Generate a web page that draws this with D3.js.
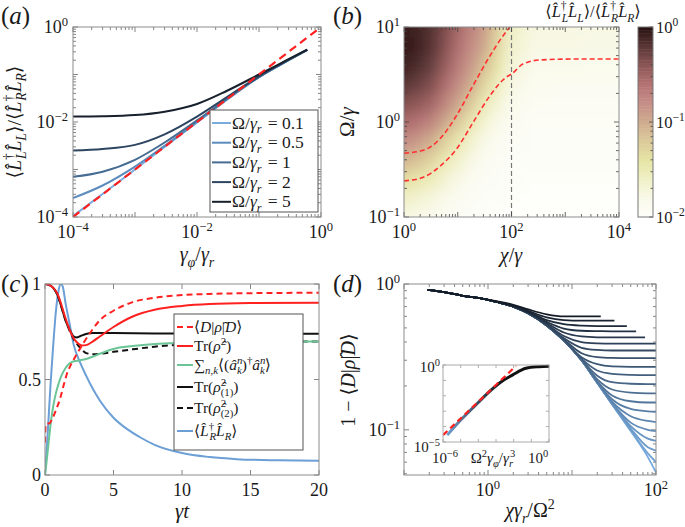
<!DOCTYPE html>
<html><head><meta charset="utf-8">
<script src="https://cdn.jsdelivr.net/npm/d3@7"></script>
<style>
body{margin:0;background:#fff}
text{font-family:"Liberation Serif","DejaVu Serif",serif;fill:#1a1a1a}
</style></head>
<body><svg id="c" width="685" height="527"></svg>
<script>
// ================= DATA =================
// Panel (a)
const aGamma = [1e-4, 3e-4, 1e-3, 3e-3, 1e-2, 3e-2, 0.1, 0.3, 0.6];
const aOmegaLabels = ["0.1", "0.5", "1", "2", "5"];
const aRatio01 = [1.05e-4, 3.05e-4, 1.0e-3, 3.0e-3, 9.8e-3, 2.9e-2, 8.8e-2, 0.2, 0.33];
const aRatio05 = [2.5e-4, 4.6e-4, 1.15e-3, 3.15e-3, 1.0e-2, 2.95e-2, 8.8e-2, 0.2, 0.33];
const aRatio1  = [7e-4, 9e-4, 1.6e-3, 3.7e-3, 1.08e-2, 3.05e-2, 8.9e-2, 0.2, 0.33];
const aRatio2  = [2.5e-3, 2.7e-3, 3.3e-3, 5.5e-3, 1.3e-2, 3.3e-2, 9.1e-2, 0.205, 0.33];
const aRatio5  = [1.3e-2, 1.32e-2, 1.4e-2, 1.65e-2, 2.4e-2, 4.5e-2, 0.1, 0.21, 0.335];
const aDiagX = [1e-4, 1];
const aDiagY = [1e-4, 1];
const aColors = ["#79abdd", "#5b8cbd", "#466c93", "#2d4561", "#17202c"];

// Panel (b)
const bChi = [1, 1.778, 3.162, 5.623, 10, 17.78, 31.62, 56.23, 100, 316.2, 1000, 3162, 10000];
const bOmega = [0.1, 0.1585, 0.2512, 0.3981, 0.631, 1, 1.585, 2.512, 3.981, 6.31, 10];
// log10 of ratio, one column per chi node, from low Omega to high Omega
const bLogRatio = [
  [-1.75,-1.6,-1.35,-1.05,-0.78,-0.55,-0.36,-0.2,-0.08,-0.03,-0.06],
  [-1.8,-1.66,-1.44,-1.15,-0.88,-0.62,-0.42,-0.26,-0.15,-0.09,-0.1],
  [-1.85,-1.72,-1.53,-1.27,-1.0,-0.72,-0.5,-0.35,-0.24,-0.18,-0.17],
  [-1.9,-1.8,-1.67,-1.48,-1.25,-0.95,-0.72,-0.56,-0.44,-0.36,-0.33],
  [-1.95,-1.88,-1.78,-1.63,-1.45,-1.18,-0.95,-0.78,-0.66,-0.58,-0.53],
  [-1.97,-1.93,-1.87,-1.78,-1.65,-1.45,-1.2,-1.0,-0.87,-0.78,-0.72],
  [-1.98,-1.96,-1.93,-1.88,-1.8,-1.68,-1.5,-1.3,-1.12,-0.98,-0.9],
  [-1.99,-1.97,-1.96,-1.93,-1.88,-1.8,-1.7,-1.56,-1.42,-1.32,-1.25],
  [-1.99,-1.98,-1.97,-1.95,-1.93,-1.89,-1.84,-1.78,-1.72,-1.66,-1.62],
  [-1.99,-1.99,-1.98,-1.97,-1.96,-1.94,-1.91,-1.87,-1.82,-1.77,-1.75],
  [-1.99,-1.99,-1.98,-1.97,-1.96,-1.94,-1.92,-1.88,-1.82,-1.77,-1.76],
  [-1.99,-1.99,-1.98,-1.97,-1.96,-1.94,-1.92,-1.88,-1.83,-1.78,-1.77],
  [-1.99,-1.99,-1.98,-1.97,-1.96,-1.94,-1.92,-1.88,-1.83,-1.78,-1.77]
];
const bUpperChi = [1, 2.2, 4.6, 9.5, 19.5, 40, 79, 93];
const bUpperOmega = [0.47, 0.50, 0.66, 1.17, 2.45, 5.0, 8.9, 10];
const bLowerChi = [1, 2.2, 4.6, 9.5, 19.5, 40, 79, 100, 166, 340, 1400, 10000];
const bLowerOmega = [0.24, 0.26, 0.34, 0.52, 1.0, 1.9, 2.95, 3.2, 4.1, 4.5, 4.6, 4.6];
const bVertChi = 100;

// Panel (c)
const cDt = [0, 0.05, 0.15, 0.3, 0.5, 0.8, 1.1, 1.4, 1.6, 1.95, 2.3, 2.8, 3.5, 4, 5, 6.4, 8, 10, 12, 15, 20];
const cD  = [0.17, 0.26, 0.27, 0.27, 0.29, 0.34, 0.40, 0.48, 0.53, 0.585, 0.63, 0.69, 0.765, 0.81, 0.86, 0.905, 0.928, 0.942, 0.948, 0.952, 0.954];
const cPt = [0, 0.3, 0.6, 0.9, 1.2, 1.5, 1.8, 2.1, 2.4, 2.7, 3.0, 3.5, 4, 5, 6.4, 8, 10, 12, 15, 20];
const cPur = [1.0, 0.995, 0.98, 0.95, 0.89, 0.82, 0.76, 0.715, 0.69, 0.678, 0.68, 0.70, 0.725, 0.775, 0.83, 0.865, 0.885, 0.895, 0.9, 0.902];
const c1t = [0, 0.3, 0.6, 0.9, 1.2, 1.5, 1.8, 2.1, 2.3, 2.6, 3.0, 3.5, 4, 5, 8, 12, 20];
const cPur1 = [1.0, 0.995, 0.98, 0.945, 0.88, 0.81, 0.76, 0.725, 0.72, 0.728, 0.738, 0.743, 0.744, 0.743, 0.741, 0.74, 0.739];
const c2t = [0, 0.3, 0.6, 0.9, 1.2, 1.5, 1.8, 2.1, 2.4, 2.7, 3.0, 3.5, 4, 5, 6.4, 8, 10, 12, 15, 20];
const cPur2 = [1.0, 0.995, 0.98, 0.945, 0.88, 0.81, 0.755, 0.71, 0.68, 0.655, 0.638, 0.632, 0.634, 0.645, 0.658, 0.672, 0.683, 0.69, 0.696, 0.699];
const cNt = [0, 0.1, 0.25, 0.4, 0.6, 0.8, 1.0, 1.2, 1.5, 1.8, 2.1, 2.5, 3.0, 3.5, 4, 5, 6.4, 8, 10, 13, 16, 20];
const cN  = [0, 0.06, 0.16, 0.26, 0.36, 0.43, 0.48, 0.52, 0.56, 0.585, 0.595, 0.6, 0.607, 0.62, 0.635, 0.66, 0.675, 0.686, 0.692, 0.696, 0.698, 0.699];
const cLt = [0, 0.2, 0.4, 0.6, 0.8, 1.0, 1.15, 1.3, 1.5, 1.8, 2.1, 2.5, 3, 3.5, 4, 5, 6, 7, 8, 10, 12, 14, 17, 20];
const cLR = [0, 0.22, 0.47, 0.68, 0.86, 0.97, 1.0, 0.985, 0.9, 0.79, 0.68, 0.6, 0.52, 0.45, 0.39, 0.30, 0.24, 0.195, 0.158, 0.115, 0.094, 0.083, 0.077, 0.075];

// Panel (d)
const dX = [0.19, 0.3, 0.5, 0.8, 1.3, 2, 3, 5, 8, 13, 20, 30, 50, 80, 100];
const dEnd = [22, 32, 45, 58, 74, 100, 100, 100, 100, 100, 100, 100, 100, 100, 100, 100, 100, 100, 100, 100];
const dCurves = [
  [.91,.88,.83,.80,.76,.72,.67,.62,.60,.60,.60,.60],
  [.91,.88,.83,.80,.755,.71,.655,.59,.565,.56,.56,.56,.56],
  [.91,.88,.83,.80,.75,.705,.645,.565,.53,.518,.515,.515,.515],
  [.91,.88,.83,.80,.75,.70,.64,.55,.495,.478,.475,.474,.474,.474],
  [.91,.88,.83,.80,.75,.70,.635,.54,.465,.437,.431,.43,.43,.43],
  [.91,.88,.83,.80,.75,.70,.632,.53,.44,.40,.392,.39,.39,.39,.39],
  [.91,.88,.83,.80,.75,.70,.63,.525,.425,.365,.353,.35,.35,.35,.35],
  [.91,.88,.83,.80,.75,.70,.63,.522,.417,.335,.315,.311,.31,.31,.31],
  [.91,.88,.83,.80,.75,.70,.63,.52,.413,.315,.282,.272,.27,.27,.27],
  [.91,.88,.83,.80,.75,.70,.63,.52,.41,.307,.255,.242,.238,.237,.237],
  [.91,.88,.83,.80,.75,.70,.63,.52,.41,.303,.235,.212,.207,.206,.206],
  [.91,.88,.83,.80,.75,.70,.63,.52,.41,.301,.222,.189,.18,.178,.178],
  [.91,.88,.83,.80,.75,.70,.63,.52,.41,.30,.215,.172,.157,.154,.154],
  [.91,.88,.83,.80,.75,.70,.63,.52,.41,.30,.212,.162,.139,.134,.133],
  [.91,.88,.83,.80,.75,.70,.63,.52,.41,.30,.211,.156,.124,.115,.113],
  [.91,.88,.83,.80,.75,.70,.63,.52,.41,.30,.21,.153,.112,.100,.098],
  [.91,.88,.83,.80,.75,.70,.63,.52,.41,.30,.21,.151,.106,.087,.084],
  [.91,.88,.83,.80,.75,.70,.63,.52,.41,.30,.21,.15,.102,.076,.072],
  [.91,.88,.83,.80,.75,.70,.63,.52,.41,.30,.21,.15,.099,.069,.060],
  [.91,.88,.83,.80,.75,.70,.63,.52,.41,.30,.21,.15,.098,.065,.051]
];
const dInsetDashX = [1e-6, 1.35e-2];
const dInsetDashY = [2.8e-5, 0.87];
const dInsetX = [1.74e-6, 8.9e-6, 5e-5, 2.8e-4, 1.58e-3, 8.9e-3, 5e-2, 0.275, 1];
const dInsetY = [2.8e-5, 2.3e-4, 1.66e-3, 1.2e-2, 6.8e-2, 0.23, 0.62, 0.78, 0.83];

// ================= HELPERS =================
const svg = d3.select('#c');
const defs = svg.append('defs');

function mtext(g, x, y, parts, o) {
  o = o || {}; const fs = o.size || 16;
  const t = g.append('text').attr('x', x).attr('y', y).attr('font-size', fs)
    .attr('text-anchor', o.anchor || 'start').style('white-space', 'pre');
  if (o.rotate) t.attr('transform', `rotate(${o.rotate},${x},${y})`);
  let cur = 0;
  parts.forEach(p => {
    if (typeof p === 'string') p = {t: p};
    const target = p.s === 'sup' ? -0.4 * fs : p.s === 'sub' ? 0.28 * fs : 0;
    const ts = t.append('tspan').text(p.t);
    if (target !== cur) ts.attr('dy', (target - cur).toFixed(2));
    cur = target;
    if (p.s) ts.attr('font-size', (fs * 0.7).toFixed(1));
    if (p.i) ts.attr('font-style', 'italic');
    if (p.dx) ts.attr('dx', (p.dx * fs).toFixed(2));
  });
  return t;
}
function pow(g, x, y, e, anchor, fs) {
  return mtext(g, x, y, ['10', {t: String(e).replace('-', '−'), s: 'sup'}], {anchor: anchor, size: fs});
}
function logTicks(lo, hi) {
  const maj = [], min = [];
  for (let e = Math.floor(Math.log10(lo)); e <= Math.ceil(Math.log10(hi)); e++)
    for (let k = 1; k < 10; k++) {
      const v = k * Math.pow(10, e);
      if (v >= lo * 0.9999 && v <= hi * 1.0001) (k === 1 ? maj : min).push(v);
    }
  return {maj, min};
}
function ticks(g, sx, sy, box, xt, yt, o) {
  o = o || {};
  const c = o.color || '#666', L = o.len || 5, l = o.mlen || 3;
  const add = (x1, y1, x2, y2) => g.append('line').attr('x1', x1).attr('y1', y1).attr('x2', x2).attr('y2', y2)
    .attr('stroke', c).attr('stroke-width', 0.8);
  [[xt.maj, L], [xt.min, l]].forEach(([vs, len]) => vs.forEach(v => {
    const x = sx(v); add(x, box.y1, x, box.y1 - len); add(x, box.y0, x, box.y0 + len);
  }));
  [[yt.maj, L], [yt.min, l]].forEach(([vs, len]) => vs.forEach(v => {
    const y = sy(v); add(box.x0, y, box.x0 + len, y); add(box.x1, y, box.x1 - len, y);
  }));
}
function frame(g, box, col) {
  g.append('rect').attr('x', box.x0).attr('y', box.y0).attr('width', box.x1 - box.x0)
    .attr('height', box.y1 - box.y0).attr('fill', 'none').attr('stroke', col || '#8c8c8c').attr('stroke-width', 1);
}
function clip(id, box) {
  defs.append('clipPath').attr('id', id).append('rect').attr('x', box.x0).attr('y', box.y0)
    .attr('width', box.x1 - box.x0).attr('height', box.y1 - box.y0);
}
const RED = '#ff2020';
const ratioLabel = ['⟨', {t: 'L̂', i: 1}, {t: '†', s: 'sup'}, {t: 'L', i: 1, s: 'sub', dx: -0.3}, {t: 'L̂', i: 1}, {t: 'L', i: 1, s: 'sub'},
  '⟩/⟨', {t: 'L̂', i: 1}, {t: '†', s: 'sup'}, {t: 'R', i: 1, s: 'sub', dx: -0.3}, {t: 'L̂', i: 1}, {t: 'R', i: 1, s: 'sub'}, '⟩'];

// ================= PANEL (a) =================
(function () {
  const box = {x0: 73, x1: 321, y0: 27, y1: 217};
  const g = svg.append('g');
  const x = d3.scaleLog().domain([1e-4, 1]).range([box.x0, box.x1]);
  const y = d3.scaleLog().domain([1e-4, 1]).range([box.y1, box.y0]);
  clip('clipA', box);
  ticks(g, x, y, box, logTicks(1e-4, 1), logTicks(1e-4, 1));
  const lg = g.append('g').attr('clip-path', 'url(#clipA)');
  const line = d3.line().x(d => x(d[0])).y(d => y(d[1])).curve(d3.curveMonotoneX);
  const series = [aRatio01, aRatio05, aRatio1, aRatio2, aRatio5];
  series.forEach((s, i) => {
    lg.append('path').attr('d', line(aGamma.map((v, k) => [v, s[k]])))
      .attr('fill', 'none').attr('stroke', aColors[i]).attr('stroke-width', 2);
  });
  lg.append('path').attr('d', line(aDiagX.map((v, k) => [v, aDiagY[k]])))
    .attr('fill', 'none').attr('stroke', RED).attr('stroke-width', 2.2).attr('stroke-dasharray', '8,5');
  frame(g, box);
  [1e-4, 1e-2, 1].forEach(v => pow(g, x(v), box.y1 + 21, Math.round(Math.log10(v)), 'middle', 18));
  [1e-4, 1e-2, 1].forEach(v => pow(g, box.x0 - 5, y(v) + 6, Math.round(Math.log10(v)), 'end', 18));
  mtext(g, 197, 261, [{t: 'γ', i: 1}, {t: 'φ', i: 1, s: 'sub'}, '/', {t: 'γ', i: 1}, {t: 'r', i: 1, s: 'sub'}], {anchor: 'middle', size: 20});
  mtext(g, 21, 122, ratioLabel, {anchor: 'middle', size: 19.5, rotate: -90});
  mtext(g, 1, 24, ['(', {t: 'a', i: 1}, ')'], {size: 25});
  // legend
  const L = {x0: 210, x1: 318, y0: 110, y1: 212};
  g.append('rect').attr('x', L.x0).attr('y', L.y0).attr('width', L.x1 - L.x0).attr('height', L.y1 - L.y0)
    .attr('fill', '#fff').attr('stroke', '#555').attr('stroke-width', 1);
  aOmegaLabels.forEach((lab, i) => {
    const yy = 123 + i * 19.7;
    g.append('line').attr('x1', 212).attr('x2', 231).attr('y1', yy).attr('y2', yy)
      .attr('stroke', aColors[i]).attr('stroke-width', 2);
    mtext(g, 232, yy + 5.5, ['Ω/', {t: 'γ', i: 1}, {t: 'r', i: 1, s: 'sub'}, {t: ' = ', dx: 0.1}, lab], {size: 17.5});
  });
})();

// ================= PANEL (b) =================
(function () {
  const box = {x0: 404, x1: 619, y0: 27, y1: 217};
  const g = svg.append('g');
  const x = d3.scaleLog().domain([1, 1e4]).range([box.x0, box.x1]);
  const y = d3.scaleLog().domain([0.1, 10]).range([box.y1, box.y0]);
  const stops = [-2, -1.8, -1.6, -1.4, -1.2, -1, -0.8, -0.6, -0.4, -0.2, 0];
  const cols = ['#fefefb', '#f9f9ea', '#f0f0c6', '#e6e4a4', '#dccb9a', '#cfac8e', '#c68e88', '#b47272', '#8c5656', '#5a3636', '#281010'];
  const cmap = d3.scaleLinear().domain(stops).range(cols).clamp(true);
  clip('clipB', box);
  defs.append('filter').attr('id', 'blurB').attr('x', '-0.2').attr('y', '-0.2').attr('width', '1.4').attr('height', '1.4')
    .append('feGaussianBlur').attr('stdDeviation', 7);
  const hg = g.append('g').attr('clip-path', 'url(#clipB)').append('g').attr('filter', 'url(#blurB)');
  const px = bChi.map(v => x(v)), py = bOmega.map(v => y(v));
  const ext = 40;
  bLogRatio.forEach((col, i) => {
    const xl = i === 0 ? px[0] - ext : (px[i - 1] + px[i]) / 2;
    const xr = i === px.length - 1 ? px[i] + ext : (px[i] + px[i + 1]) / 2;
    col.forEach((v, j) => {
      const yb = j === 0 ? py[0] + ext : (py[j - 1] + py[j]) / 2;
      const yt = j === py.length - 1 ? py[j] - ext : (py[j] + py[j + 1]) / 2;
      hg.append('rect').attr('x', xl).attr('y', yt).attr('width', xr - xl + 0.6).attr('height', yb - yt + 0.6)
        .attr('fill', cmap(v));
    });
  });
  const lg = g.append('g').attr('clip-path', 'url(#clipB)');
  const line = d3.line().x(d => x(d[0])).y(d => y(d[1])).curve(d3.curveMonotoneX);
  lg.append('line').attr('x1', x(bVertChi)).attr('x2', x(bVertChi)).attr('y1', box.y0).attr('y2', box.y1)
    .attr('stroke', '#777').attr('stroke-width', 1.2).attr('stroke-dasharray', '5,3');
  [[bUpperChi, bUpperOmega], [bLowerChi, bLowerOmega]].forEach(([cx, cy]) => {
    lg.append('path').attr('d', line(cx.map((v, k) => [v, cy[k]]))).attr('fill', 'none')
      .attr('stroke', '#ff3030').attr('stroke-width', 1.6).attr('stroke-dasharray', '5,3');
  });
  ticks(g, x, y, box, logTicks(1, 1e4), logTicks(0.1, 10), {color: '#444'});
  frame(g, box);
  [1, 100, 1e4].forEach(v => pow(g, x(v), box.y1 + 21, Math.round(Math.log10(v)), 'middle', 18));
  [0.1, 1, 10].forEach(v => pow(g, box.x0 - 4, y(v) + 6, Math.round(Math.log10(v)), 'end', 18));
  mtext(g, 511, 262, [{t: 'χ', i: 1}, '/', {t: 'γ', i: 1}], {anchor: 'middle', size: 20});
  mtext(g, 354, 122, ['Ω/', {t: 'γ', i: 1}], {anchor: 'middle', size: 21, rotate: -90});
  mtext(g, 333, 24, ['(', {t: 'b', i: 1}, ')'], {size: 25});
  // colorbar
  const cb = {x0: 638, x1: 653, y0: 27, y1: 217};
  const yc = d3.scaleLog().domain([0.01, 1]).range([cb.y1, cb.y0]);
  const N = 120;
  for (let k = 0; k < N; k++) {
    const v0 = -2 + 2 * k / N, v1 = -2 + 2 * (k + 1) / N;
    const ya = yc(Math.pow(10, v1)), yb = yc(Math.pow(10, v0));
    g.append('rect').attr('x', cb.x0).attr('y', ya).attr('width', cb.x1 - cb.x0).attr('height', yb - ya + 0.5)
      .attr('fill', cmap((v0 + v1) / 2));
  }
  const ct = logTicks(0.01, 1);
  ct.maj.forEach(v => g.append('line').attr('x1', cb.x1).attr('x2', cb.x1 - 4).attr('y1', yc(v)).attr('y2', yc(v)).attr('stroke', '#444').attr('stroke-width', 0.8));
  ct.min.forEach(v => g.append('line').attr('x1', cb.x1).attr('x2', cb.x1 - 2.5).attr('y1', yc(v)).attr('y2', yc(v)).attr('stroke', '#444').attr('stroke-width', 0.8));
  g.append('rect').attr('x', cb.x0).attr('y', cb.y0).attr('width', cb.x1 - cb.x0).attr('height', cb.y1 - cb.y0)
    .attr('fill', 'none').attr('stroke', '#777');
  [0.01, 0.1, 1].forEach(v => pow(g, 656, yc(v) + 6, Math.round(Math.log10(v)), 'start', 16.5));
  mtext(g, 593, 17, ratioLabel, {anchor: 'middle', size: 16.5});
})();

// ================= PANEL (c) =================
(function () {
  const box = {x0: 45, x1: 319, y0: 284, y1: 475};
  const g = svg.append('g');
  const x = d3.scaleLinear().domain([0, 20]).range([box.x0, box.x1]);
  const y = d3.scaleLinear().domain([0, 1]).range([box.y1, box.y0]);
  clip('clipC', box);
  ticks(g, x, y, box, {maj: [0, 5, 10, 15, 20], min: []}, {maj: [0, 0.5, 1], min: []});
  const lg = g.append('g').attr('clip-path', 'url(#clipC)');
  const line = d3.line().x(d => x(d[0])).y(d => y(d[1])).curve(d3.curveMonotoneX);
  const draw = (tt, vv, col, dash) => {
    const p = lg.append('path').attr('d', line(tt.map((t, k) => [t, vv[k]]))).attr('fill', 'none')
      .attr('stroke', col).attr('stroke-width', 2);
    if (dash) p.attr('stroke-dasharray', dash);
  };
  draw(cLt, cLR, '#6b9fd6');
  draw(c2t, cPur2, '#111', '6,4');
  draw(cNt, cN, '#6cc596');
  draw(c1t, cPur1, '#111');
  draw(cPt, cPur, RED);
  draw(cDt, cD, RED, '6,4');
  frame(g, box);
  [0, 5, 10, 15, 20].forEach(v => mtext(g, x(v), box.y1 + 21, [String(v)], {anchor: 'middle', size: 18}));
  [[0, '0'], [0.5, '0.5'], [1, '1']].forEach(([v, s]) => mtext(g, box.x0 - 4, y(v) + 6, [s], {anchor: 'end', size: 18}));
  mtext(g, 182, 518, [{t: 'γt', i: 1}], {anchor: 'middle', size: 21});
  mtext(g, 1, 292, ['(', {t: 'c', i: 1}, ')'], {size: 25});
  // legend
  const L = {x0: 174, x1: 303, y0: 314, y1: 450};
  g.append('rect').attr('x', L.x0).attr('y', L.y0).attr('width', L.x1 - L.x0).attr('height', L.y1 - L.y0)
    .attr('fill', '#fff').attr('stroke', '#555').attr('stroke-width', 1);
  const ent = [
    [RED, '6,4', ['⟨', {t: 'D', i: 1}, '|', {t: 'ρ̂', i: 1}, '|', {t: 'D', i: 1}, '⟩']],
    [RED, null, ['Tr(', {t: 'ρ̂', i: 1}, {t: '2', s: 'sup'}, ')']],
    ['#6cc596', null, ['∑', {t: 'n,k', i: 1, s: 'sub'}, '⟨(', {t: 'â', i: 1}, {t: 'n', i: 1, s: 'sup'}, {t: 'k', i: 1, s: 'sub', dx: -0.35}, ')', {t: '†', s: 'sup'}, {t: 'â', i: 1}, {t: 'n', i: 1, s: 'sup'}, {t: 'k', i: 1, s: 'sub', dx: -0.35}, '⟩']],
    ['#111', null, ['Tr(', {t: 'ρ̂', i: 1}, {t: '2', s: 'sup'}, {t: '(1)', s: 'sub', dx: -0.35}, ')']],
    ['#111', '6,4', ['Tr(', {t: 'ρ̂', i: 1}, {t: '2', s: 'sup'}, {t: '(2)', s: 'sub', dx: -0.35}, ')']],
    ['#6b9fd6', null, ['⟨', {t: 'L̂', i: 1}, {t: '†', s: 'sup'}, {t: 'R', i: 1, s: 'sub', dx: -0.3}, {t: 'L̂', i: 1}, {t: 'R', i: 1, s: 'sub'}, '⟩']]
  ];
  const ys = [327, 346, 365, 387, 408, 431];
  ent.forEach(([col, dash, parts], i) => {
    const l = g.append('line').attr('x1', 177).attr('x2', 193).attr('y1', ys[i]).attr('y2', ys[i])
      .attr('stroke', col).attr('stroke-width', 2);
    if (dash) l.attr('stroke-dasharray', dash);
    mtext(g, 194, ys[i] + 5, parts, {size: 15.5});
  });
})();

// ================= PANEL (d) =================
(function () {
  const box = {x0: 404, x1: 656, y0: 284, y1: 475};
  const g = svg.append('g');
  const x = d3.scaleLog().domain([0.1, 100]).range([box.x0, box.x1]);
  const y = d3.scaleLog().domain([0.049, 1]).range([box.y1, box.y0]);
  clip('clipD', box);
  ticks(g, x, y, box, logTicks(0.1, 100), logTicks(0.049, 1));
  const lg = g.append('g').attr('clip-path', 'url(#clipD)');
  const line = d3.line().x(d => x(d[0])).y(d => y(d[1])).curve(d3.curveMonotoneX);
  const colI = d3.interpolateRgb('#141c28', '#76aade');
  for (let i = dCurves.length - 1; i >= 0; i--) {
    const ys = dCurves[i];
    const xs = dX.filter(v => v < dEnd[i]).concat([dEnd[i]]);
    lg.append('path').attr('d', line(xs.map((v, k) => [v, ys[k]]))).attr('fill', 'none')
      .attr('stroke', colI(i / (dCurves.length - 1))).attr('stroke-width', 1.8);
  }
  frame(g, box);
  [1, 100].forEach(v => pow(g, x(v), box.y1 + 21, Math.round(Math.log10(v)), 'middle', 18));
  [0.1, 1].forEach(v => pow(g, box.x0 - 4, y(v) + 6, Math.round(Math.log10(v)), 'end', 18));
  mtext(g, 530, 517, [{t: 'χγ', i: 1}, {t: 'r', i: 1, s: 'sub'}, '/Ω', {t: '2', s: 'sup'}], {anchor: 'middle', size: 20});
  mtext(g, 355, 380, ['1 − ⟨', {t: 'D', i: 1}, '|', {t: 'ρ̂', i: 1}, '|', {t: 'D', i: 1}, '⟩'], {anchor: 'middle', size: 20, rotate: -90});
  mtext(g, 333, 292, ['(', {t: 'd', i: 1}, ')'], {size: 25});

  // inset
  const ib = {x0: 443, x1: 549, y0: 365, y1: 442};
  g.append('rect').attr('x', ib.x0).attr('y', ib.y0).attr('width', ib.x1 - ib.x0).attr('height', ib.y1 - ib.y0).attr('fill', '#fff');
  const xi = d3.scaleLog().domain([1e-6, 1]).range([ib.x0, ib.x1]);
  const yi = d3.scaleLog().domain([1e-5, 1]).range([ib.y1, ib.y0]);
  const dec = (lo, hi) => { const r = []; for (let e = lo; e <= hi; e++) r.push(Math.pow(10, e)); return r; };
  ticks(g, xi, yi, ib, {maj: dec(-6, 0), min: []}, {maj: dec(-5, 0), min: []}, {len: 3, color: '#999'});
  clip('clipI', ib);
  const ig = g.append('g').attr('clip-path', 'url(#clipI)');
  const grad = defs.append('linearGradient').attr('id', 'insetGrad').attr('gradientUnits', 'userSpaceOnUse')
    .attr('x1', ib.x0).attr('x2', ib.x0 + 60).attr('y1', 0).attr('y2', 0);
  grad.append('stop').attr('offset', 0).attr('stop-color', '#74a8dc');
  grad.append('stop').attr('offset', 1).attr('stop-color', '#111');
  const li = d3.line().x(d => xi(d[0])).y(d => yi(d[1])).curve(d3.curveMonotoneX);
  ig.append('path').attr('d', li(dInsetX.map((v, k) => [v, dInsetY[k]]))).attr('fill', 'none')
    .attr('stroke', 'url(#insetGrad)').attr('stroke-width', 3);
  ig.append('path').attr('d', li(dInsetDashX.map((v, k) => [v, dInsetDashY[k]]))).attr('fill', 'none')
    .attr('stroke', RED).attr('stroke-width', 2.2).attr('stroke-dasharray', '6,4');
  frame(g, ib, '#aaa');
  pow(g, 440, 372, 0, 'end', 15);
  pow(g, 440, 452, -5, 'end', 15);
  pow(g, 445, 463, -6, 'middle', 15);
  pow(g, 538, 463, 0, 'middle', 15);
  mtext(g, 493, 463, ['Ω', {t: '2', s: 'sup'}, {t: 'γ', i: 1}, {t: 'φ', i: 1, s: 'sub'}, '/', {t: 'γ', i: 1}, {t: 'r', i: 1, s: 'sub'}, {t: '3', s: 'sup', dx: -0.2}], {anchor: 'middle', size: 15});
})();
</script></body></html>
